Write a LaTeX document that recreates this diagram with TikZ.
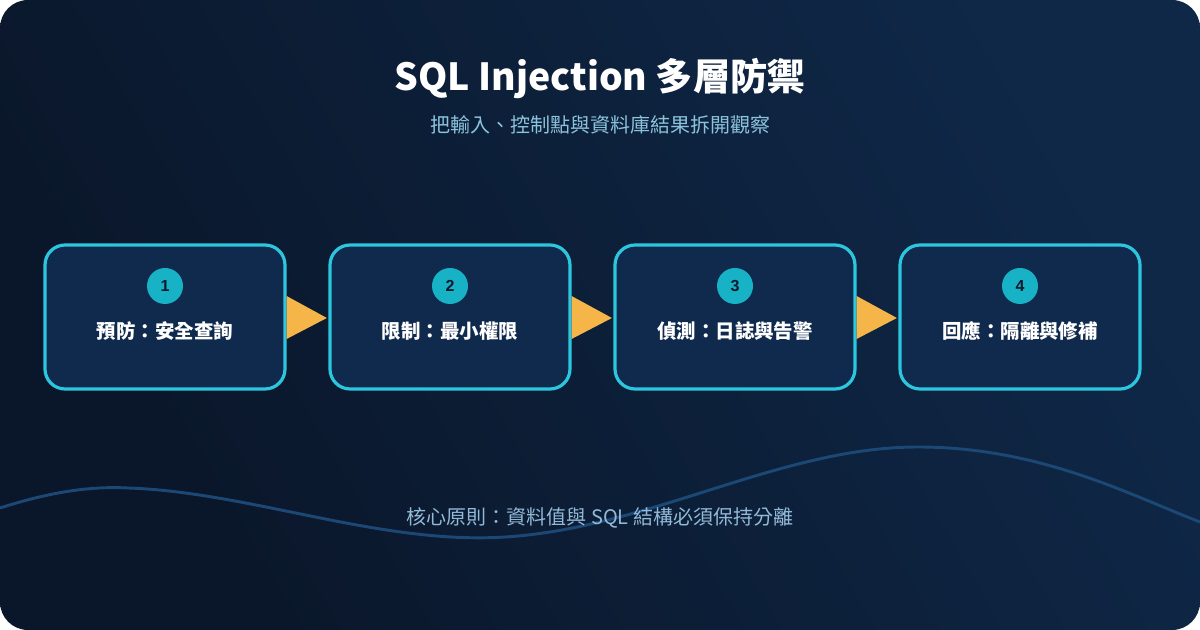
\documentclass[tikz,border=0pt]{standalone}
\usepackage{fontspec}
\setmainfont{Noto Sans CJK TC}
\newfontfamily\numfont{Liberation Sans}
\usetikzlibrary{calc}
\definecolor{bgA}{HTML}{0A1629}
\definecolor{bgB}{HTML}{0F2848}
\definecolor{boxfill}{HTML}{0F2A4D}
\definecolor{boxline}{HTML}{2CC6DE}
\definecolor{numfill}{HTML}{17B2C6}
\definecolor{numtext}{HTML}{0A1A2C}
\definecolor{arrowc}{HTML}{F5B548}
\definecolor{subc}{HTML}{8CC3DC}
\definecolor{footc}{HTML}{93B9D8}
\definecolor{wavec}{HTML}{1C4875}
\tikzset{
  stepbox/.style={draw=boxline, line width=2.4pt, fill=boxfill, rounded corners=15pt,
    minimum width=180pt, minimum height=108pt, inner sep=0pt},
  numdot/.style={circle, fill=numfill, minimum size=27pt, inner sep=0pt,
    text=numtext, font=\numfont\fontsize{12pt}{14pt}\selectfont\bfseries},
  steplabel/.style={text=white, font=\fontsize{14.6pt}{16pt}\selectfont\bfseries, inner sep=0pt},
  flowarrow/.style={fill=arrowc}
}
\begin{document}
\begin{tikzpicture}[x=0.75pt,y=-0.75pt]
\useasboundingbox (0,0) rectangle (1200,630);
\fill[white] (0,0) rectangle (1200,630);
\shade[rounded corners=21pt, left color=bgA, right color=bgB, shading angle=120] (0,0) rectangle (1200,630);
% wave
\draw[wavec, line width=2.2pt] (0,508) .. controls (50,492) and (90,486) .. (128,488)
  .. controls (250,492) and (380,545) .. (505,537)
  .. controls (650,528) and (780,447) .. (918,447)
  .. controls (1040,447) and (1130,495) .. (1200,522);
% title
\node[text=white, font=\fontsize{28pt}{32pt}\selectfont\bfseries] (title) at (600,78) {SQL Injection 多層防禦};
\node[text=subc, font=\fontsize{15pt}{18pt}\selectfont] (sub) at (600,125) {把輸入、控制點與資料庫結果拆開觀察};
% boxes
\node[stepbox] (b1) at (165,317) {};
\node[stepbox] (b2) at (450,317) {};
\node[stepbox] (b3) at (735,317) {};
\node[stepbox] (b4) at (1020,317) {};
\foreach \i/\t in {1/預防：安全查詢, 2/限制：最小權限, 3/偵測：日誌與告警, 4/回應：隔離與修補}{
  \node[numdot] (n\i) at ($(b\i.center)+(0,-31)$) {\i};
  \node[steplabel] (l\i) at ($(b\i.center)+(0,14)$) {\t};
}
% arrows
\foreach \a/\b in {b1/b2, b2/b3, b3/b4}{
  \fill[flowarrow] ($(\a.east)+(0,-21)$) -- ($(\b.west)+(-1.5,1)$) -- ($(\a.east)+(0,22)$) -- cycle;
}
% footer
\node[text=footc, font=\fontsize{15pt}{18pt}\selectfont] (foot) at (600,518) {核心原則：資料值與 SQL 結構必須保持分離};
\end{tikzpicture}
\end{document}
